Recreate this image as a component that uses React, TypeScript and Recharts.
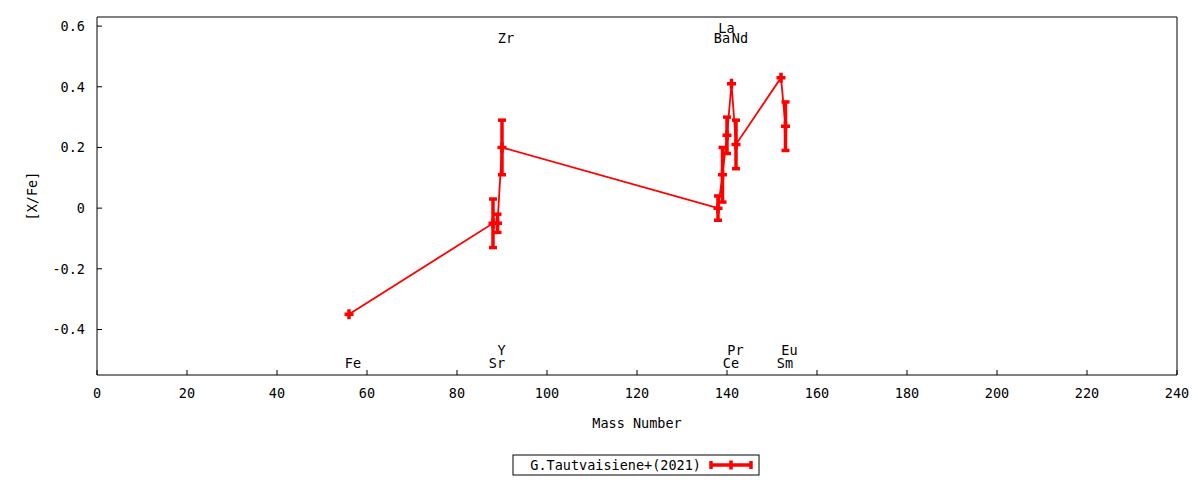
import { ComposedChart, Line, Scatter, XAxis, YAxis, ErrorBar } from 'recharts'

// abundance pattern, one entry per element
const elementNames = ['Fe', 'Sr', 'Y', 'Zr', 'Ba', 'La', 'Ce', 'Pr', 'Nd', 'Sm', 'Eu']
const massNumbers = [56, 88, 89, 90, 138, 139, 140, 141, 142, 152, 153]
const abundances = [-0.35, -0.05, -0.05, 0.2, 0.0, 0.11, 0.24, 0.41, 0.21, 0.43, 0.27]
const abundanceErrors = [0, 0.08, 0.03, 0.09, 0.04, 0.09, 0.06, 0, 0.08, 0, 0.08]
// y value (in [X/Fe]) where each element name is written
const nameLevels = [-0.51, -0.51, -0.468, 0.56, 0.56, 0.595, -0.51, -0.468, 0.56, -0.51, -0.468]

const xTicks = [0, 20, 40, 60, 80, 100, 120, 140, 160, 180, 200, 220, 240]
const yTicks = [-0.4, -0.2, 0, 0.2, 0.4, 0.6]
const seriesName = 'G.Tautvaisiene+(2021)'

const RED = '#ff0000'
const FONT = '"DejaVu Sans Mono", monospace'
const FONT_SIZE = 13.5

const points = massNumbers.map((mass, i) => ({
  mass,
  val: abundances[i],
  err: abundanceErrors[i],
}))

const nameMarks = elementNames.map((name, i) => ({
  mass: massNumbers[i],
  val: nameLevels[i],
  name,
}))

const tickStyle = { fill: '#000', fontFamily: FONT, fontSize: FONT_SIZE }

function PlusDot(props: any) {
  const { cx, cy, index } = props
  if (cx == null || cy == null) return null
  return (
    <path
      key={`plus-${index}`}
      d={`M${cx - 4.5},${cy}H${cx + 4.5}M${cx},${cy - 5}V${cy + 5}`}
      stroke={RED}
      strokeWidth={3.5}
      fill="none"
    />
  )
}

function ElementName(props: any) {
  const { cx, cy, payload } = props
  return (
    <text
      x={cx + 4}
      y={cy}
      textAnchor="middle"
      dominantBaseline="central"
      fontFamily={FONT}
      fontSize={FONT_SIZE}
      fill="#000"
    >
      {payload.name}
    </text>
  )
}

function LegendBox() {
  return (
    <g>
      <rect x={513} y={455} width={246} height={20} fill="#fff" stroke="#000" strokeWidth={1} />
      <text
        x={701}
        y={465}
        textAnchor="end"
        dominantBaseline="central"
        fontFamily={FONT}
        fontSize={FONT_SIZE}
        fill="#000"
      >
        {seriesName}
      </text>
      <path
        d="M711,465H751M711,461V469M751,461V469M731,460.5V469.5"
        stroke={RED}
        strokeWidth={3.5}
        fill="none"
      />
    </g>
  )
}

export default function App() {
  return (
    <div style={{ position: 'absolute', left: 0, top: 0, background: '#fff' }}>
      <ComposedChart
        width={1200}
        height={480}
        data={points}
        margin={{ top: 16, right: 22, bottom: 0, left: 0 }}
      >
        <XAxis
          dataKey="mass"
          type="number"
          domain={[0, 240]}
          ticks={xTicks}
          interval={0}
          height={105}
          stroke="#000"
          tickSize={-5}
          tickMargin={18}
          tick={tickStyle}
          label={{
            value: 'Mass Number',
            position: 'insideTop',
            offset: 43,
            style: { fill: '#000', fontFamily: FONT, fontSize: FONT_SIZE },
          }}
        />
        <XAxis
          xAxisId="top"
          orientation="top"
          dataKey="mass"
          type="number"
          domain={[0, 240]}
          ticks={xTicks}
          interval={0}
          height={1}
          stroke="#000"
          tickSize={-5}
          tick={false}
        />
        <YAxis
          dataKey="val"
          type="number"
          domain={[-0.55, 0.63]}
          ticks={yTicks}
          interval={0}
          width={97}
          stroke="#000"
          tickSize={-5}
          tickMargin={17}
          tick={tickStyle}
          label={{
            value: '[X/Fe]',
            angle: -90,
            position: 'insideLeft',
            offset: 32,
            style: { fill: '#000', fontFamily: FONT, fontSize: FONT_SIZE, textAnchor: 'middle' },
          }}
        />
        <YAxis
          yAxisId="right"
          orientation="right"
          type="number"
          domain={[-0.55, 0.63]}
          ticks={yTicks}
          interval={0}
          width={1}
          stroke="#000"
          tickSize={-5}
          tick={false}
        />
        <Line
          dataKey="val"
          type="linear"
          stroke={RED}
          strokeWidth={1.8}
          dot={PlusDot}
          activeDot={false}
          isAnimationActive={false}
        >
          <ErrorBar dataKey="err" direction="y" width={4} strokeWidth={3.5} stroke={RED} isAnimationActive={false} />
        </Line>
        <Scatter data={nameMarks} dataKey="val" shape={ElementName} isAnimationActive={false} />
        <LegendBox />
      </ComposedChart>
    </div>
  )
}
